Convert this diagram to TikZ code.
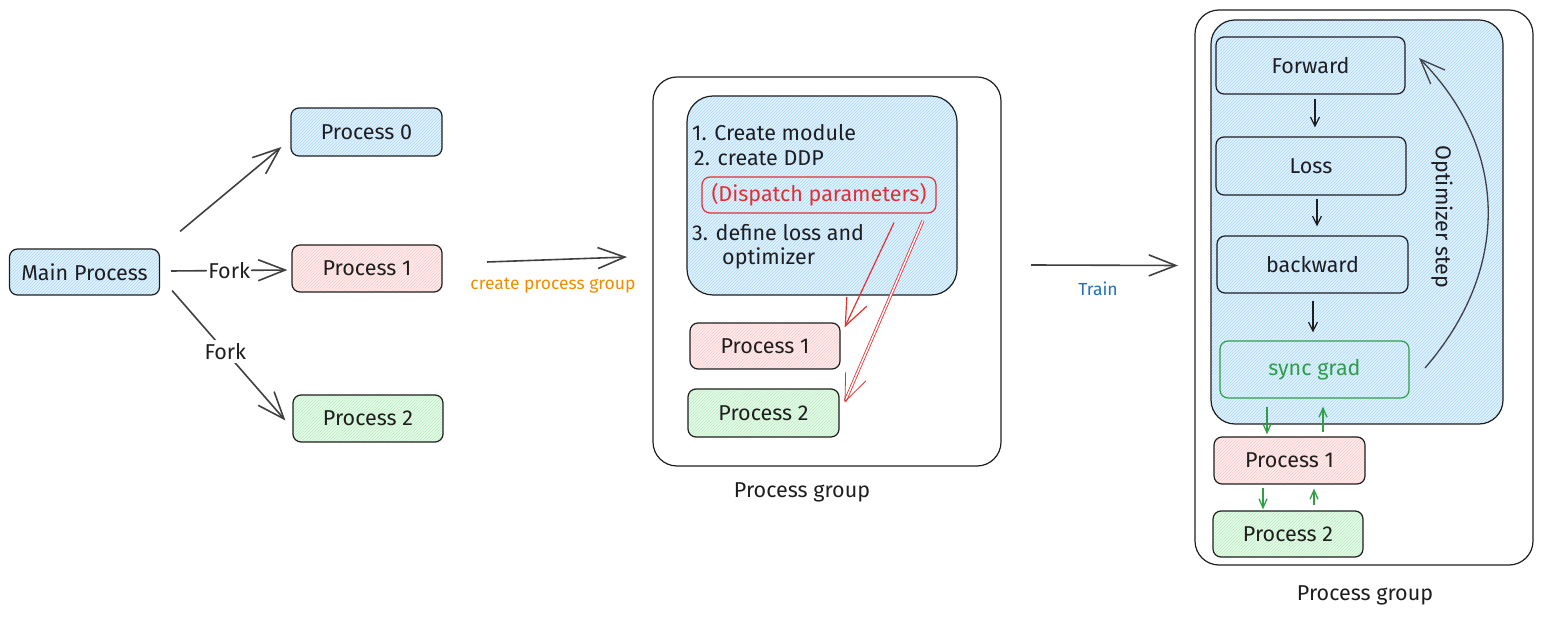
\documentclass[tikz,border=0pt]{standalone}
\usepackage{fontspec}
\setmainfont{Fira Sans}
\usetikzlibrary{arrows.meta,patterns,calc}
\definecolor{ink}{HTML}{1E1E1E}
\definecolor{bluefill}{HTML}{E6F3FD}
\definecolor{bluehatch}{HTML}{A5D8FF}
\definecolor{redfill}{HTML}{FDEDED}
\definecolor{redhatch}{HTML}{FFC9C9}
\definecolor{greenfill}{HTML}{EAF8EC}
\definecolor{greenhatch}{HTML}{B2F2BB}
\definecolor{redink}{HTML}{E03131}
\definecolor{greenink}{HTML}{2F9E44}
\definecolor{orangeink}{HTML}{F08C00}
\definecolor{blueink}{HTML}{1971C2}
\tikzset{
  x=1pt, y=-1pt,
  txt/.style={font=\fontsize{21.5}{25}\selectfont, text=ink, inner sep=0pt},
  box/.style={draw=ink, line width=1.2pt, rounded corners=8pt, txt},
  bluebox/.style={box, preaction={fill=bluefill}, preaction={pattern=north east lines, pattern color=bluehatch}},
  redbox/.style={box, preaction={fill=redfill}, preaction={pattern=north east lines, pattern color=redhatch}},
  greenbox/.style={box, preaction={fill=greenfill}, preaction={pattern=north east lines, pattern color=greenhatch}},
  group/.style={draw=ink, line width=1.2pt, rounded corners=24pt},
  bigarr/.style={draw=ink!85, line width=1.6pt, -{Straight Barb[length=27pt,width=21pt,line width=1.6pt]}},
  arr/.style={draw=ink, line width=1.2pt, -{Straight Barb[length=9pt,width=9pt]}},
  redarr/.style={draw=redink, line width=1.2pt, -{Straight Barb[length=27pt,width=22pt]}},
  grarr/.style={draw=greenink, line width=1.3pt, -{Straight Barb[length=9pt,width=8pt]}},
  small/.style={font=\fontsize{17.5}{21}\selectfont, inner sep=1pt},
}
\begin{document}
\begin{tikzpicture}
\useasboundingbox (0,0) rectangle (1543,617);

% ---------- left part ----------
\node[bluebox, minimum width=150, minimum height=46] (main) at (84.5,272) {Main Process};
\node[bluebox, minimum width=151, minimum height=48] (p0) at (366.5,132) {Process 0};
\node[redbox, minimum width=150, minimum height=47] (p1) at (367,268.5) {Process 1};
\node[greenbox, minimum width=150, minimum height=47] (p2) at (368,418.5) {Process 2};

\draw[bigarr] ($(main.north east)+(20,-17)$) -- ($(p0.west)+(-9,15)$);
\draw[bigarr] ($(main.east)+(11,-1)$) -- node[txt, fill=white, inner sep=1pt] (fork1) {Fork} ($(p1.west)+(-4,1.5)$);
\draw[bigarr] ($(main.south east)+(12,-5)$) -- node[txt, fill=white, inner sep=3pt, pos=0.47] (fork2) {Fork} ($(p2.west)+(-7,2)$);

% ---------- create process group ----------
\coordinate (c1s) at (487,262);
\coordinate (c1e) at (627,257);
\draw[bigarr] (c1s) -- (c1e);
\node[small, text=orangeink] (cpg) at (553,286) {create process group};

% ---------- middle group ----------
\node[group, minimum width=348, minimum height=389] (g1) at (827,271.5) {};
\node[bluebox, rounded corners=26pt, minimum width=270, minimum height=199] (m1) at (822,195.5) {};
\node[txt, anchor=west] (t1) at (692,133) {1. Create module};
\node[txt, anchor=west] (t2) at (694,158) {2. create DDP};
\node[box, draw=redink, text=redink, rounded corners=8pt, minimum width=234, minimum height=36] (disp) at (819,195) {(Dispatch parameters)};
\node[txt, anchor=west] (t3) at (692,233) {3. define loss and};
\node[txt, anchor=west] (t4) at (722,258) {optimizer};
\node[redbox, minimum width=150, minimum height=46] (mp1) at (765,346) {Process 1};
\node[greenbox, minimum width=151, minimum height=48] (mp2) at (763.5,413) {Process 2};
\draw[redarr] ($(disp.south)+(75,9)$) -- ($(mp1.north east)+(4,5)$);
\draw[redarr, double=white, double distance=1.5pt, line width=0.8pt] ($(disp.south)+(104,7)$) -- ($(mp2.north east)+(5,14)$);
\node[txt] (pg1) at (802,492) {Process group};

% ---------- train ----------
\coordinate (c2s) at (1031,265);
\coordinate (c2e) at (1178,265.5);
\draw[bigarr] (c2s) -- (c2e);
\node[small, text=blueink] (train) at (1098,289) {Train};

% ---------- right group ----------
\node[group, minimum width=338, minimum height=555] (g2) at (1364,287.5) {};
\node[bluebox, rounded corners=24pt, minimum width=292, minimum height=404] (m2) at (1357,222) {};
\node[box, minimum width=189, minimum height=57] (fw) at (1310.5,65.5) {Forward};
\node[box, minimum width=190, minimum height=58] (loss) at (1311,166) {Loss};
\node[box, minimum width=191, minimum height=57] (bw) at (1312.5,264.5) {backward};
\node[box, draw=greenink, text=greenink, minimum width=189, minimum height=57] (sync) at (1314.5,369.5) {sync grad};
\node[redbox, minimum width=151, minimum height=47] (rp1) at (1289.5,460.5) {Process 1};
\node[greenbox, minimum width=150, minimum height=46] (rp2) at (1288,534) {Process 2};

\draw[arr] ($(fw.south)+(4.5,4)$) -- ($(fw.south |- loss.north)+(4.5,-9)$);
\draw[arr] ($(loss.south)+(6,3)$) -- ($(loss.south |- bw.north)+(6,-9)$);
\draw[arr] ($(bw.south)+(0.5,7)$) -- ($(bw.south |- sync.north)+(0.5,-8)$);

\draw[grarr] ($(sync.south)+(-47.5,8)$) -- ($(sync.south |- rp1.north)+(-47.5,-2)$);
\draw[grarr] ($(sync.south |- rp1.north)+(8.5,-4)$) -- ($(sync.south)+(8.5,8)$);
\draw[grarr] ($(rp1.south)+(-26.5,3)$) -- ($(rp1.south |- rp2.north)+(-26.5,-1)$);
\draw[grarr] ($(rp1.south |- rp2.north)+(24.5,-5)$) -- ($(rp1.south)+(24.5,4)$);

\coordinate (os1) at (1425,368);
\coordinate (os2) at (1419,58);
\draw[bigarr, line width=1.3pt, -{Straight Barb[length=25pt,width=20pt,line width=1.3pt]}] (os1) .. controls (1510,270) and (1510,150) .. (os2);
\node[txt, rotate=-90] (ostep) at (1442,217) {Optimizer step};

\node[txt] (pg2) at (1365,595) {Process group};
\end{tikzpicture}
\end{document}
